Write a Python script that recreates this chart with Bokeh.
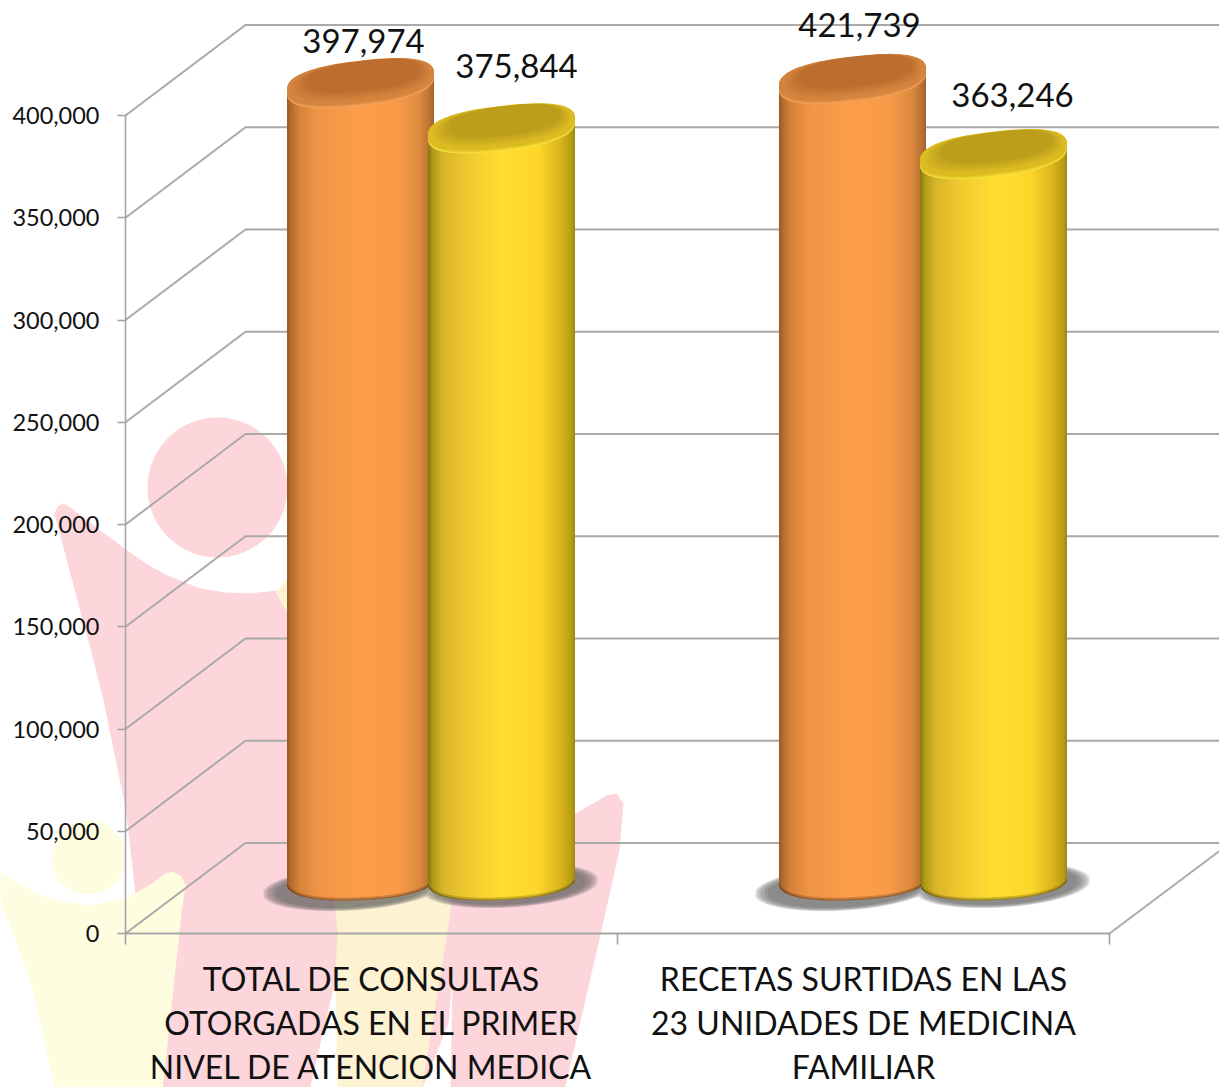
import numpy as np
from bokeh.embed import file_html
from bokeh.resources import INLINE
from bokeh.plotting import figure
from bokeh.models import Range1d, FixedTicker, NumeralTickFormatter, LinearAxis
from bokeh.core.properties import value

categories = ["TOTAL DE CONSULTAS\nOTORGADAS EN EL PRIMER\nNIVEL DE ATENCION MEDICA",
              "RECETAS SURTIDAS EN LAS\n23 UNIDADES DE MEDICINA\nFAMILIAR"]
orange_values = [397974, 421739]
yellow_values = [375844, 363246]
y_ticks = [0, 50000, 100000, 150000, 200000, 250000, 300000, 350000, 400000]
AXIS_MAX = 400000

FONT = "Lato"
W, H = 1219, 1087
LEFT, BOTTOM_Y = 125, 933
CAT_PX = 492.0
PX_PER_UNIT = 0.002045
Y_MAX = BOTTOM_Y / PX_PER_UNIT
Y_MIN = -(H - BOTTOM_Y) / PX_PER_UNIT
X_MIN = -LEFT / CAT_PX
X_MAX = (W - LEFT) / CAT_PX

p = figure(width=W, height=H, output_backend="svg", toolbar_location=None,
           x_range=Range1d(X_MIN, X_MAX), y_range=Range1d(Y_MIN, Y_MAX),
           min_border=0, x_axis_type=None, y_axis_type=None,
           outline_line_color=None, background_fill_color=None, border_fill_color="white")
p.grid.visible = False
p.extra_x_ranges["px"] = Range1d(0, W)
p.extra_y_ranges["px"] = Range1d(H, 0)
PX = dict(x_range_name="px", y_range_name="px")

# ---- watermark behind the chart (page decoration, in page pixels)
PINK, LEMON, CREAM = "#fdd6dc", "#fefde0", "#fdf3d2"
p.patch([53, 57, 62, 67, 82, 100, 127, 147, 167, 200, 225, 250, 277, 400, 500, 577, 606, 616, 623, 619, 598, 564,
         163, 135, 125, 103, 88, 77, 55],
        [515, 506, 503, 505, 516, 530, 550, 564, 575, 588, 592, 593, 590, 850, 860, 812, 795, 793, 803, 850, 943, 1090,
         1090, 893, 807, 700, 640, 600, 517],
        fill_color=PINK, line_color=None, **PX)
p.ellipse([217], [487], width=140, height=140, width_units="screen", height_units="screen",
          fill_color=PINK, line_color=None, **PX)
p.ellipse([88], [857], width=74, height=74, width_units="screen", height_units="screen",
          fill_color=LEMON, line_color=None, **PX)
p.patch([0, 20, 50, 90, 125, 150, 165, 173, 181, 185, 181, 162, 55, 30, 0],
        [872, 884, 899, 905, 898, 884, 873, 871, 876, 885, 913, 1090, 1090, 980, 900],
        fill_color=LEMON, line_color=None, **PX)
p.patch([275, 287, 300, 450, 450, 421, 309, 335, 337, 330, 287],
        [592, 578, 590, 800, 913, 1090, 1090, 980, 930, 870, 612],
        fill_color=CREAM, line_color=None, **PX)
p.patch([335, 309, 337], [980, 1090, 1090], fill_color="white", line_color=None, **PX)
p.patch([452, 448, 421, 450], [980, 1023, 1090, 1090], fill_color="white", line_color=None, **PX)

# ---- 3D walls and floor
GRID = "#a9a9a9"
DX_DATA, DY_DATA = 120 / CAT_PX, 90.5 / PX_PER_UNIT
p.multi_line([[0, DX_DATA, X_MAX] for _ in y_ticks],
             [[v, v + DY_DATA, v + DY_DATA] for v in y_ticks],
             line_color=GRID, line_width=2)
p.line([2, X_MAX], [0, (X_MAX - 2) * CAT_PX * 0.75 / PX_PER_UNIT], line_color=GRID, line_width=2)

# ---- cylinders
def hex2rgb(h):
    return np.array([int(h[i:i + 2], 16) for i in (1, 3, 5)], float)

def ramp(stops, t):
    ts = [s[0] for s in stops]
    cols = np.array([hex2rgb(s[1]) for s in stops])
    return np.stack([np.interp(t, ts, cols[:, i]) for i in range(3)], axis=1)

def to_hex(rgb):
    return ["#%02x%02x%02x" % tuple(int(round(c)) for c in np.clip(row, 0, 255)) for row in rgb]

ORANGE = dict(stops=[(0, "#9c5a26"), (.03, "#b86e30"), (.08, "#d68238"), (.2, "#ef9446"), (.45, "#fb9d4a"),
                     (.75, "#f89a48"), (.9, "#dc8a3e"), (.97, "#b97032"), (1, "#a06028")],
              rim="#d5843e", dark="#bb6e30", light="#f4a45c")
YELLOW = dict(stops=[(0, "#8a7a10"), (.03, "#b09a18"), (.1, "#d8b528"), (.25, "#eec830"), (.5, "#ffde30"),
                     (.75, "#fdd62a"), (.9, "#d8b41e"), (.97, "#b89e14"), (1, "#9a8410")],
              rim="#dcbb22", dark="#bc9e1c", light="#f8e23c")

BAR_RX = 73.5          # half width of a cylinder, pixels
BAR_RY = 21.0
BASE_RY = 19.5
TILT = 0.115           # slope of the upper ellipses
BASE_TILT = 0.045      # slope of the lower ellipse
SHADOW_TILT = 0.06
SUPER = 2.5            # squareness of the cap outline
DEPTH_SHIFT = 38 / PX_PER_UNIT
BASE_LEVEL = 53 / PX_PER_UNIT
ORANGE_OFF, YELLOW_OFF = -11 / CAT_PX, 130 / CAT_PX
ONE_PX = 1 / PX_PER_UNIT

def mix(a, b, f):
    return to_hex([hex2rgb(a) * (1 - f) + hex2rgb(b) * f])[0]

def cap_outline(cx, yc, rx, ry):
    th = np.linspace(0, 2 * np.pi, 90, endpoint=False)
    c, s = np.cos(th), np.sin(th)
    ox = rx * np.sign(c) * np.abs(c) ** (2 / SUPER)
    oy = ry * np.sign(s) * np.abs(s) ** (2 / SUPER)
    return cx + ox / CAT_PX, yc + (oy + TILT * ox) * ONE_PX

def shadow(xa, xb):
    ell = [(xa, 888, 90, 22), (xb, 885, 88, 22)]
    for shrink in [1.0, .97, .94, .9, .86]:
        xs = np.arange(xa - 95, xb + 95, 1.0)
        lo = np.full(xs.shape, np.inf)
        hi = np.full(xs.shape, -np.inf)
        for xc, yc, rx, ry in ell:
            u = (xs - xc) / (rx * shrink)
            m = np.abs(u) < 1
            s = ry * shrink * np.sqrt(1 - u[m] ** 2)
            c = yc - SHADOW_TILT * (xs[m] - xc)
            lo[m] = np.minimum(lo[m], c - s)
            hi[m] = np.maximum(hi[m], c + s)
        ok = np.isfinite(lo)
        p.varea(xs[ok], lo[ok], hi[ok], fill_color="#555555", fill_alpha=0.2, **PX)

def cylinder(cx, val, st):
    top = min(val, AXIS_MAX) + DEPTH_SHIFT
    off = np.arange(-BAR_RX, BAR_RX, 1.0)
    t = (off + BAR_RX) / (2 * BAR_RX)
    cols = ramp(st["stops"], t)
    top_line = top + off * TILT * ONE_PX
    u = np.abs((off + .5) / BAR_RX)
    bot = BASE_LEVEL + (off * BASE_TILT - BASE_RY * np.clip(1 - u ** 2.3, 0, 1) ** (1 / 2.3)) * ONE_PX
    left = cx + off / CAT_PX
    right = np.minimum(cx + (off + 1.6) / CAT_PX, cx + BAR_RX / CAT_PX)
    # bottom rim first, body on top of it
    p.quad(left=left, right=right, top=bot + 6 * ONE_PX, bottom=bot, fill_color=to_hex(cols * .62), line_color=None)
    p.quad(left=left, right=right, top=bot + 9 * ONE_PX, bottom=bot + 1.2 * ONE_PX, fill_color=to_hex(cols * .82), line_color=None)
    p.quad(left=left, right=right, top=top_line, bottom=bot + 3 * ONE_PX, fill_color=to_hex(cols), line_color=None)
    # cap: bright lower lip, rim, sunken darker centre
    for k in range(7):
        f = k / 6
        xs, ys = cap_outline(cx, top - (3 - 3 * f) * ONE_PX, BAR_RX, BAR_RY)
        p.patch(xs, ys, fill_color=mix(st["light"], st["rim"], f), line_color=None)
    for k in range(7):
        f = k / 6
        xs, ys = cap_outline(cx + 3 * f / CAT_PX, top + (1 + 5 * f) * ONE_PX,
                             71 - 15 * f, 19.5 - 5 * f)
        p.patch(xs, ys, fill_color=mix(st["rim"], st["dark"], f), line_color=None)

for i in range(2):
    xo, xy = i + .5 + ORANGE_OFF, i + .5 + YELLOW_OFF
    shadow(LEFT + xo * CAT_PX - 8, LEFT + xy * CAT_PX + 9)
    cylinder(xo, orange_values[i], ORANGE)
    cylinder(xy, yellow_values[i], YELLOW)

# ---- value labels
label_dx = [3, 15, 7, 19]
label_dy = [-41, -61, -53, -58]
vals, xs = [], []
tops = []
for i in range(2):
    for v, o in ((orange_values[i], ORANGE_OFF), (yellow_values[i], YELLOW_OFF)):
        vals.append(v)
        xs.append(i + .5 + o)
        tops.append(min(v, AXIS_MAX) + DEPTH_SHIFT)
p.text(xs, tops, text=[f"{v:,}" for v in vals], x_offset=label_dx, y_offset=label_dy,
       text_font=value(FONT), text_font_size="33px", text_color="#111111",
       text_align="center", text_baseline="middle")

# ---- axes
ya = LinearAxis(ticker=FixedTicker(ticks=y_ticks), formatter=NumeralTickFormatter(format="0,0"),
                bounds=(0, AXIS_MAX), fixed_location=0)
ya.major_tick_out = 8
ya.major_tick_in = 0
ya.minor_tick_line_color = None
ya.major_tick_line_color = "#a0a0a0"
ya.axis_line_color = "#a6a6ac"
ya.axis_line_width = 1.6
ya.major_tick_line_width = 1.6
ya.major_label_standoff = 18
ya.major_label_text_font = FONT
ya.major_label_text_font_size = "23.5px"
ya.major_label_text_color = "#111111"
p.add_layout(ya, "left")

xa = LinearAxis(ticker=FixedTicker(ticks=[.5, 1.5], minor_ticks=[0, 1, 2]), bounds=(0, 2), fixed_location=0)
xa.major_label_overrides = {.5: categories[0], 1.5: categories[1]}
xa.major_tick_line_color = None
xa.minor_tick_line_color = "#a0a0a0"
xa.minor_tick_out = 11
xa.minor_tick_in = 0
xa.minor_tick_line_width = 1.6
xa.axis_line_color = "#a6a6a6"
xa.axis_line_width = 2
xa.major_label_standoff = 14
xa.major_label_text_font = FONT
xa.major_label_text_font_size = "32px"
xa.major_label_text_color = "#111111"
xa.major_label_text_line_height = 1.14
p.add_layout(xa, "below")

html = file_html(p, INLINE)
html = html.replace("</head>", "<style>html,body{margin:0;padding:0;overflow:hidden}</style></head>", 1)
open("out.html", "w").write(html)
